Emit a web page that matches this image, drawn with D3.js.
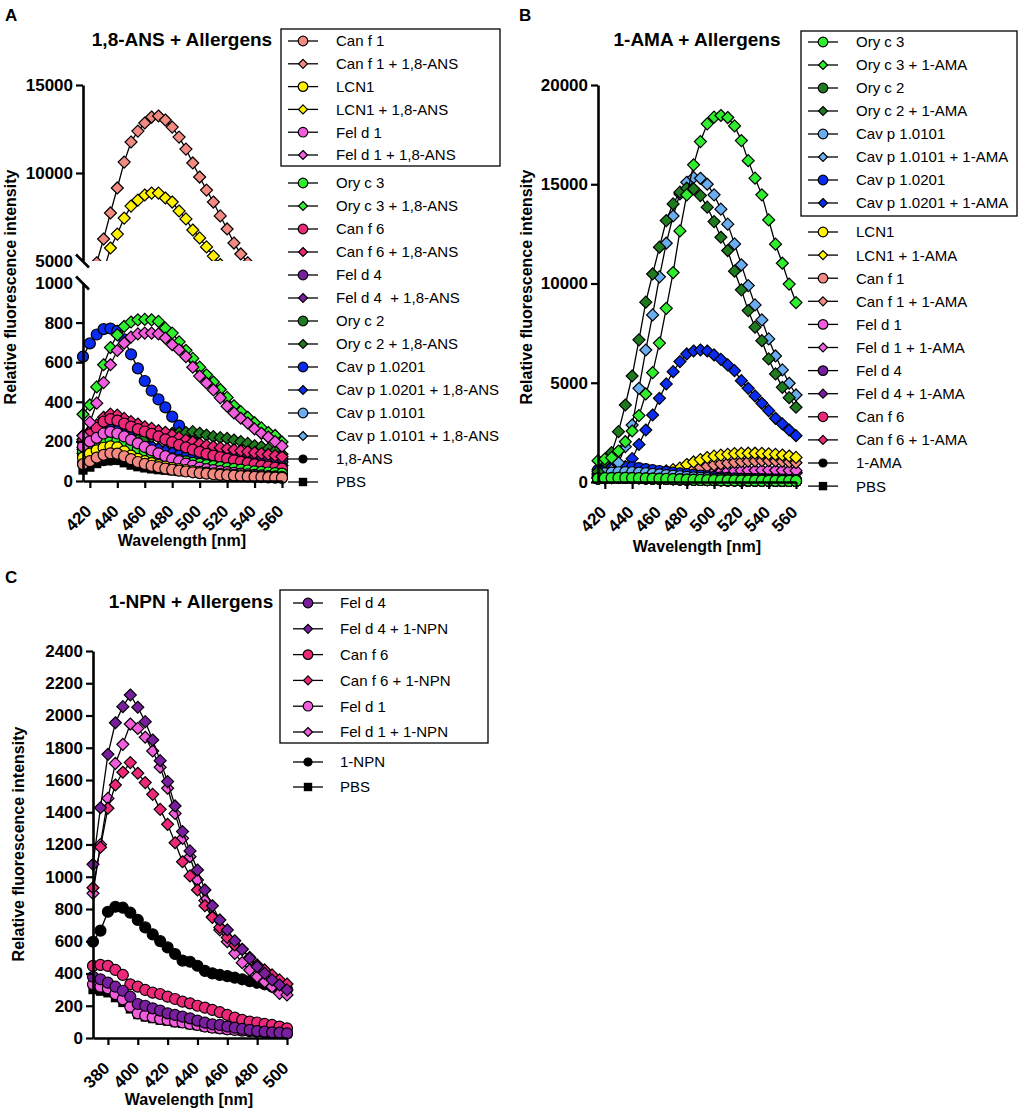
<!DOCTYPE html>
<html><head><meta charset="utf-8">
<script src="https://cdn.jsdelivr.net/npm/d3@7"></script>
<style>
body{margin:0;background:#fff;}
svg text{font-family:"Liberation Sans",Arial,sans-serif;fill:#000;}
</style></head><body>
<svg id="chart" width="1021" height="1113"></svg>
<script>
// ---------------- DATA ----------------
const wlAB = [415,420,425,430,435,440,445,450,455,460,465,470,475,480,485,490,495,500,505,510,515,520,525,530,535,540,545,550,555,560];
const wlC  = [370,375,380,385,390,395,400,405,410,415,420,425,430,435,440,445,450,455,460,465,470,475,480,485,490,495,500];

const xTicksAB = [420,440,460,480,500,520,540,560];
const xTicksC  = [380,400,420,440,460,480,500];
const yTicksAUpper = [5000,10000,15000];
const yTicksALower = [0,200,400,600,800,1000];
const yTicksB = [0,5000,10000,15000,20000];
const yTicksC = [0,200,400,600,800,1000,1200,1400,1600,1800,2000,2200,2400];

// Panel A : 1,8-ANS + Allergens
const legendA = ["Can f 1","Can f 1 + 1,8-ANS","LCN1","LCN1 + 1,8-ANS","Fel d 1","Fel d 1 + 1,8-ANS","Ory c 3","Ory c 3 + 1,8-ANS","Can f 6","Can f 6 + 1,8-ANS","Fel d 4","Fel d 4  + 1,8-ANS","Ory c 2","Ory c 2 + 1,8-ANS","Cav p 1.0201","Cav p 1.0201 + 1,8-ANS","Cav p 1.0101","Cav p 1.0101 + 1,8-ANS","1,8-ANS","PBS"];
const A_canf1      = [85,100,118,132,140,138,125,110,96,86,77,70,63,57,52,48,44,40,37,34,31,29,27,25,23,21,20,18,17,16];
const A_canf1_ans  = [2600,3700,4900,6250,7730,9150,10620,11760,12380,12840,13180,13240,13010,12610,12040,11360,10570,9770,9030,8350,7560,6820,6020,5400,4900,4400,3900,3500,3100,2800];
const A_lcn1       = [118,138,155,168,175,170,150,128,112,100,90,80,73,66,60,55,50,46,42,39,36,33,31,29,27,25,23,22,20,19];
const A_lcn1_ans   = [2200,2800,3400,4400,5740,6530,7440,8120,8460,8750,8860,8860,8580,8350,7840,7390,6760,6310,5800,5280,4800,4300,3900,3500,3200,2900,2700,2500,2300,2100];
const A_feld1      = [175,200,218,240,248,240,225,208,190,172,155,140,125,110,100,88,78,68,60,55,50,45,41,37,34,31,28,25,23,21];
const A_feld1_ans  = [228,297,393,497,587,659,696,727,743,747,747,743,722,688,663,628,575,530,495,460,420,378,344,317,293,263,241,222,199,176];
const A_oryc3      = [150,170,190,205,212,205,190,175,162,150,140,130,122,114,106,99,92,86,80,75,70,65,61,57,53,49,46,43,40,37];
const A_oryc3_ans  = [337,384,475,587,674,738,781,803,814,816,814,806,772,747,703,660,619,575,536,500,462,422,380,350,322,294,268,245,230,197];
const A_canf6      = [200,235,268,300,312,305,290,275,262,250,238,225,210,196,182,170,158,147,137,128,120,112,104,97,90,84,78,72,67,62];
const A_canf6_ans  = [230,250,283,322,338,333,316,300,288,274,266,254,246,232,220,208,198,188,180,174,168,163,158,153,148,143,139,134,128,123];
const A_feld4      = [150,170,190,205,210,205,192,178,165,152,140,128,118,108,99,91,84,77,71,66,61,57,53,49,46,43,40,37,35,33];
const A_feld4_ans  = [210,235,265,300,318,312,298,283,270,258,248,238,228,218,208,198,189,180,172,165,158,152,146,140,134,129,124,119,114,110];
const A_oryc2      = [160,180,198,212,220,215,200,185,170,157,145,133,122,112,103,95,88,81,75,70,65,61,57,53,50,47,44,41,39,37];
const A_oryc2_ans  = [140,160,178,190,198,203,205,206,207,215,224,232,236,241,243,245,249,241,232,224,219,215,207,199,190,178,173,162,152,135];
const A_cavp0201   = [628,695,740,767,770,758,715,640,569,505,456,412,372,325,280,236,199,170,148,133,118,104,92,80,68,57,47,38,31,25];
const A_cavp0201_ans = [170,200,230,255,265,258,240,222,205,190,176,163,152,143,135,128,122,117,112,108,104,100,97,94,91,88,85,82,80,78];
const A_cavp0101   = [130,150,170,185,195,190,178,165,152,140,130,120,112,105,98,92,86,80,75,70,66,62,58,55,52,49,46,43,41,39];
const A_cavp0101_ans = [160,190,220,240,250,245,230,215,200,188,176,165,155,147,140,135,130,126,122,119,116,113,110,108,106,104,102,100,98,96];
const A_ans        = [90,95,100,105,108,110,112,113,114,115,116,116,117,117,117,117,116,116,115,114,113,112,111,110,108,106,104,102,100,97];
const A_pbs        = [55,70,88,102,110,105,92,80,72,66,61,57,54,51,48,46,44,42,40,38,37,36,35,34,33,32,31,30,29,28];

// Panel B : 1-AMA + Allergens
const legendB = ["Ory c 3","Ory c 3 + 1-AMA","Ory c 2","Ory c 2 + 1-AMA","Cav p 1.0101","Cav p 1.0101 + 1-AMA","Cav p 1.0201","Cav p 1.0201 + 1-AMA","LCN1","LCN1 + 1-AMA","Can f 1","Can f 1 + 1-AMA","Fel d 1","Fel d 1 + 1-AMA","Fel d 4","Fel d 4 + 1-AMA","Can f 6","Can f 6 + 1-AMA","1-AMA","PBS"];
const B_oryc3      = [170,190,200,205,205,200,190,180,170,160,150,140,130,120,110,102,95,90,85,80,75,72,68,65,62,60,58,55,52,50];
const B_oryc3_ama  = [1075,1160,1225,1560,2030,2570,3345,4435,5510,7000,8750,10550,12650,14465,15977,17150,18043,18380,18463,18361,17940,17200,16190,15306,14465,13205,11980,11022,9970,9040];
const B_oryc2      = [180,200,210,212,210,205,195,185,175,165,155,145,135,125,115,107,100,94,88,83,78,74,70,67,64,61,59,56,53,51];
const B_oryc2_ama  = [520,1025,1480,2535,3880,5340,7160,9060,10480,11830,13170,14010,14600,14800,14770,14430,13845,13120,12330,11660,10620,9680,8635,7800,7120,6200,5445,4770,4250,3765];
const B_cavp0101   = [400,440,470,490,500,490,470,440,410,380,350,320,290,260,235,212,192,175,160,148,137,128,120,112,105,99,94,89,85,81];
const B_cavp0101_ama = [420,500,605,975,1780,2870,4720,6650,8417,10335,12030,13400,14515,15100,15340,15300,15000,14465,13745,12990,11995,10940,9895,8920,8165,7207,6350,5645,4975,4385];
const B_cavp0201   = [600,650,700,740,760,740,700,650,600,555,510,470,435,400,360,320,285,255,230,210,190,175,160,150,140,130,122,115,108,100];
const B_cavp0201_ama = [620,650,680,700,770,1175,1890,2620,3375,4215,4940,5560,6065,6450,6600,6650,6600,6400,6180,5900,5610,5105,4720,4335,3965,3595,3210,2925,2620,2335];
const B_lcn1       = [190,205,212,214,212,206,196,186,176,166,156,146,136,126,116,108,101,95,89,84,79,75,71,68,65,62,60,57,54,52];
const B_lcn1_ama   = [350,360,370,380,390,400,420,440,470,510,560,620,700,880,1010,1130,1230,1300,1355,1395,1430,1445,1450,1450,1440,1420,1390,1360,1310,1240];
const B_canf1      = [175,192,203,207,206,201,191,181,171,161,151,141,131,121,111,103,96,91,86,81,76,73,69,66,63,61,59,56,53,51];
const B_canf1_ama  = [250,260,270,280,290,300,310,320,340,360,390,430,490,560,650,730,800,860,910,950,990,1020,1045,1060,1070,1070,1060,1040,1010,970];
const B_feld1      = [185,200,208,211,210,204,194,184,174,164,154,144,134,124,114,106,99,93,87,82,77,74,70,67,64,62,60,57,54,52];
const B_feld1_ama  = [220,230,240,250,260,270,280,290,300,315,330,350,370,395,420,450,475,500,525,545,560,575,585,590,595,595,590,585,580,570];
const B_feld4      = [180,196,205,209,208,203,193,183,173,163,153,143,133,123,113,105,98,92,86,81,76,73,69,66,63,61,59,56,53,51];
const B_feld4_ama  = [200,210,220,230,240,250,260,270,280,290,300,315,330,345,360,375,390,405,420,430,440,450,455,460,465,465,462,458,455,450];
const B_canf6      = [178,194,204,208,207,202,192,182,172,162,152,142,132,122,112,104,97,91,86,81,76,73,69,66,63,61,59,56,53,51];
const B_canf6_ama  = [210,220,230,240,250,260,270,280,290,300,310,325,340,355,370,385,400,415,430,440,450,460,468,474,478,480,478,475,472,468];
const B_ama        = [300,320,330,330,320,300,280,260,240,220,200,185,170,160,150,140,130,120,112,105,100,95,90,86,82,78,75,72,70,68];
const B_pbs        = [160,180,190,195,196,192,184,176,168,158,148,138,128,118,108,100,93,88,83,78,73,70,66,63,60,58,56,53,50,48];

// Panel C : 1-NPN + Allergens
const legendC = ["Fel d 4","Fel d 4 + 1-NPN","Can f 6","Can f 6 + 1-NPN","Fel d 1","Fel d 1 + 1-NPN","1-NPN","PBS"];
const C_feld4      = [380,364,343,318,293,256,211,200,184,170,153,143,132,122,108,95,85,81,71,64,56,50,43,39,35,33,29];
const C_feld4_npn  = [1077,1428,1759,1955,2055,2127,2051,1962,1848,1720,1590,1439,1280,1160,1042,918,820,732,670,603,550,494,442,401,360,329,298];
const C_canf6      = [447,453,447,422,391,333,318,298,281,273,256,242,225,215,200,188,174,160,143,126,112,102,96,87,81,71,60];
const C_canf6_npn  = [932,1183,1425,1569,1648,1708,1642,1584,1511,1418,1325,1211,1093,1005,918,820,748,686,624,577,550,500,453,422,391,360,335];
const C_feld1      = [333,318,308,273,240,194,153,139,129,118,112,102,96,87,81,71,64,60,54,50,46,43,39,35,33,33,29];
const C_feld1_npn  = [897,1200,1486,1703,1821,1947,1920,1865,1780,1679,1549,1393,1238,1124,980,852,752,670,597,525,467,422,380,349,318,277,267];
const C_npn        = [597,666,783,814,808,777,732,686,643,601,562,521,480,473,448,416,401,391,384,374,364,353,343,333,318,308,302];
const C_pbs        = [300,290,280,250,220,180,145,130,120,110,104,95,90,82,76,67,60,56,51,47,43,40,37,33,31,31,27];

// ---------------- STYLES ----------------
const COL = {canf1:"#F38A82", lcn1:"#FFF200", feld1:"#F25DDE", oryc3:"#2EEE2E", canf6:"#EE2878",
             feld4:"#7A1EA0", oryc2:"#1E7B1E", cavp0201:"#0A2CF0", cavp0101:"#6AADF0", black:"#000000"};

const seriesA = [A_canf1,A_canf1_ans,A_lcn1,A_lcn1_ans,A_feld1,A_feld1_ans,A_oryc3,A_oryc3_ans,A_canf6,A_canf6_ans,A_feld4,A_feld4_ans,A_oryc2,A_oryc2_ans,A_cavp0201,A_cavp0201_ans,A_cavp0101,A_cavp0101_ans,A_ans,A_pbs];
const colorsA = ["canf1","canf1","lcn1","lcn1","feld1","feld1","oryc3","oryc3","canf6","canf6","feld4","feld4","oryc2","oryc2","cavp0201","cavp0201","cavp0101","cavp0101","black","black"];
const upperA = [false,true,false,true,false,false,false,false,false,false,false,false,false,false,false,false,false,false,false,false];

const seriesB = [B_oryc3,B_oryc3_ama,B_oryc2,B_oryc2_ama,B_cavp0101,B_cavp0101_ama,B_cavp0201,B_cavp0201_ama,B_lcn1,B_lcn1_ama,B_canf1,B_canf1_ama,B_feld1,B_feld1_ama,B_feld4,B_feld4_ama,B_canf6,B_canf6_ama,B_ama,B_pbs];
const colorsB = ["oryc3","oryc3","oryc2","oryc2","cavp0101","cavp0101","cavp0201","cavp0201","lcn1","lcn1","canf1","canf1","feld1","feld1","feld4","feld4","canf6","canf6","black","black"];

const seriesC = [C_feld4,C_feld4_npn,C_canf6,C_canf6_npn,C_feld1,C_feld1_npn,C_npn,C_pbs];
const colorsC = ["feld4","feld4","canf6","canf6","feld1","feld1","black","black"];

function shapeOf(i, n){ if(i===n-1) return "square"; if(i===n-2) return "dot"; return i%2===0 ? "circle" : "diamond"; }

const svg = d3.select("#chart");
const FONT = '"Liberation Sans", Arial, sans-serif';

function marker(g, shape, cx, cy, fill, legend){
  if(shape==="circle" || shape==="dot"){
    const r = legend ? (shape==="dot"?4:4.8) : 5.5;
    g.append("circle").attr("cx",cx).attr("cy",cy).attr("r",r).attr("fill",fill).attr("stroke","#000").attr("stroke-width",1.2);
  } else if(shape==="diamond"){
    const h = legend ? 4.5 : 6;
    g.append("path").attr("d",`M${cx},${cy-h}L${cx+h},${cy}L${cx},${cy+h}L${cx-h},${cy}Z`).attr("fill",fill).attr("stroke","#000").attr("stroke-width",1.2);
  } else {
    const s = legend ? 4.2 : 4.6;
    g.append("rect").attr("x",cx-s).attr("y",cy-s).attr("width",2*s).attr("height",2*s).attr("fill","#000");
  }
}

function drawSeries(g, xs, vals, x, y, colorKey, shape){
  const fill = COL[colorKey];
  g.append("path").datum(vals)
    .attr("d", d3.line().x((d,i)=>x(xs[i])).y(d=>y(d)))
    .attr("fill","none").attr("stroke","#000").attr("stroke-width",1.3);
  const mg = g.append("g");
  vals.forEach((v,i)=>marker(mg, shape, x(xs[i]), y(v), fill, false));
}

function styleAxis(g){
  g.attr("font-family",FONT).attr("font-size",17).attr("font-weight","bold");
  g.select(".domain").attr("stroke","#000").attr("stroke-width",2.6);
  g.selectAll(".tick line").attr("stroke","#000").attr("stroke-width",2.2);
  g.selectAll(".tick text").attr("fill","#000");
}

function xAxis(x, ticks, yPos){
  const g = svg.append("g").attr("transform",`translate(0,${yPos})`)
    .call(d3.axisBottom(x).tickValues(ticks).tickSize(7).tickSizeOuter(0).tickFormat(d3.format("d")));
  styleAxis(g);
  g.selectAll(".tick text").attr("x",0).attr("y",0).attr("dy","0.35em")
    .attr("transform","translate(-2,27) rotate(-45)").style("text-anchor","end");
  return g;
}
function yAxis(y, ticks, xPos){
  const g = svg.append("g").attr("transform",`translate(${xPos},0)`)
    .call(d3.axisLeft(y).tickValues(ticks).tickSize(7).tickPadding(3).tickSizeOuter(0).tickFormat(d3.format("d")));
  styleAxis(g);
  return g;
}

function legend(labels, colors, ys, lineX0, markX, textX, boxRect){
  const n = labels.length;
  const g = svg.append("g");
  if(boxRect) g.append("rect").attr("x",boxRect[0]).attr("y",boxRect[1]).attr("width",boxRect[2]).attr("height",boxRect[3])
      .attr("fill","none").attr("stroke","#000").attr("stroke-width",1.3);
  labels.forEach((lab,i)=>{
    const y = ys(i);
    g.append("line").attr("x1",lineX0).attr("x2",lineX0+30).attr("y1",y).attr("y2",y).attr("stroke","#000").attr("stroke-width",1.3);
    marker(g, shapeOf(i,n), markX, y, COL[colors[i]], true);
    g.append("text").attr("x",textX).attr("y",y).attr("dy","0.36em").attr("font-size",15)
      .attr("font-family",FONT).style("white-space","pre").text(lab);
  });
}

function texts(letter, lx, ly, title, tx, ty, ytx, yty, xtx, xty){
  svg.append("text").attr("x",lx).attr("y",ly).attr("font-size",17).attr("font-weight","bold").attr("font-family",FONT).text(letter);
  svg.append("text").attr("x",tx).attr("y",ty).attr("font-size",19).attr("font-weight","bold").attr("text-anchor","middle").attr("font-family",FONT).text(title);
  svg.append("text").attr("transform",`translate(${ytx},${yty}) rotate(-90)`).attr("font-size",16).attr("font-weight","bold").attr("text-anchor","middle").attr("font-family",FONT).text("Relative fluorescence intensity");
  svg.append("text").attr("x",xtx).attr("y",xty).attr("font-size",16).attr("font-weight","bold").attr("text-anchor","middle").attr("font-family",FONT).text("Wavelength [nm]");
}

// ---------------- PANEL A ----------------
{
  const x = d3.scaleLinear().domain([415,560]).range([83,282]);
  const yLow = d3.scaleLinear().domain([0,1000]).range([481,283]);
  const yHigh = d3.scaleLinear().domain([5000,15000]).range([261,85]);
  svg.append("clipPath").attr("id","clipAUp").append("rect").attr("x",70).attr("y",70).attr("width",240).attr("height",191);
  const gLow = svg.append("g");
  const gUp = svg.append("g").attr("clip-path","url(#clipAUp)");
  for(let i=seriesA.length-1;i>=0;i--){
    if(upperA[i]) drawSeries(gUp, wlAB, seriesA[i], x, yHigh, colorsA[i], shapeOf(i,seriesA.length));
    else drawSeries(gLow, wlAB, seriesA[i], x, yLow, colorsA[i], shapeOf(i,seriesA.length));
  }
  const ax1 = yAxis(yHigh, yTicksAUpper, 83);
  ax1.selectAll(".tick").filter(d=>d===5000).select("line").remove();
  const ax2 = yAxis(yLow, yTicksALower, 83);
  ax2.selectAll(".tick").filter(d=>d===1000).select("line").remove();
  [yHigh(5000), yLow(1000)].forEach(yy=>{
    svg.append("line").attr("x1",76).attr("y1",yy-6.5).attr("x2",89).attr("y2",yy+6.5).attr("stroke","#000").attr("stroke-width",2.6);
  });
  xAxis(x, xTicksAB, 481);
  texts("A",5,21,"1,8-ANS + Allergens",182,46,16,287,182,546);
  legend(legendA, colorsA, i=> i<6 ? 41+i*22.8 : 183+(i-6)*23.0, 288, 303, 336, [281,29,219,137]);
}

// ---------------- PANEL B ----------------
{
  const x = d3.scaleLinear().domain([415,560]).range([598,796]);
  const y = d3.scaleLinear().domain([0,20000]).range([482,85]);
  const g = svg.append("g");
  for(let i=seriesB.length-1;i>=0;i--) drawSeries(g, wlAB, seriesB[i], x, y, colorsB[i], shapeOf(i,seriesB.length));
  yAxis(y, yTicksB, 598);
  xAxis(x, xTicksAB, 482);
  texts("B",519,21,"1-AMA + Allergens",697,46,532,287,697,552);
  legend(legendB, colorsB, i=> i<8 ? 42+i*23.0 : 232+(i-8)*23.1, 808, 823, 856, [801,31,216,185]);
}

// ---------------- PANEL C ----------------
{
  const x = d3.scaleLinear().domain([370,500]).range([93,287]);
  const y = d3.scaleLinear().domain([0,2400]).range([1038,651]);
  const g = svg.append("g");
  for(let i=seriesC.length-1;i>=0;i--) drawSeries(g, wlC, seriesC[i], x, y, colorsC[i], shapeOf(i,seriesC.length));
  yAxis(y, yTicksC, 93);
  xAxis(x, xTicksC, 1038);
  texts("C",5,583,"1-NPN + Allergens",191,608,24,844,189,1105);
  legend(legendC, colorsC, i=> i<6 ? 603+i*25.8 : 762+(i-6)*25, 293, 308, 340, [280,590,208,153]);
}
</script>
</body></html>
